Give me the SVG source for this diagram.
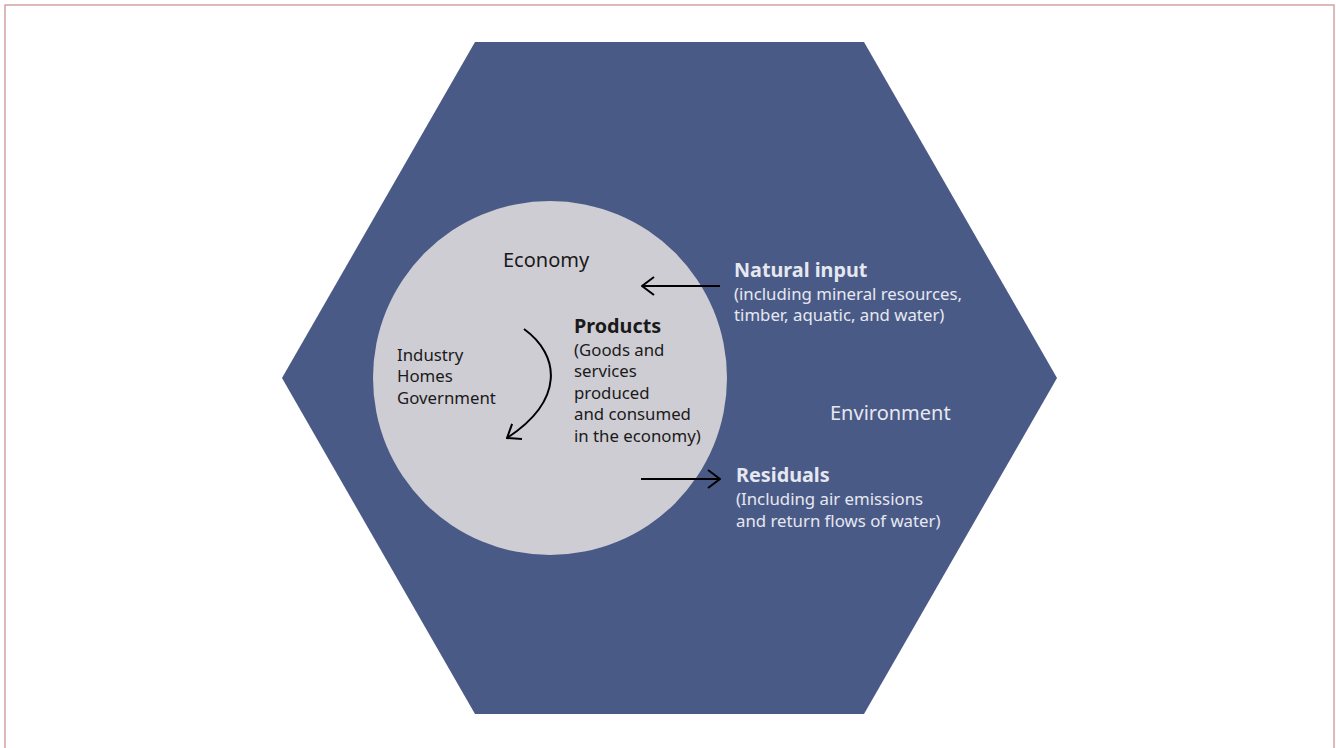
<svg xmlns="http://www.w3.org/2000/svg" width="1336" height="748" viewBox="0 0 1336 748">
<style>
.t{font-family:"Noto Sans","Open Sans",sans-serif;font-size:16.8px}
.dk{fill:#1a1a1a}
.wt{fill:#e6e8f0}
.h{font-size:20px}
.b{font-weight:bold;font-size:19.8px}
.conn{fill:none;stroke:#000;stroke-width:2}
</style>
<defs>
<marker id="arr" viewBox="0 0 14 20" refX="13" refY="10" markerWidth="14" markerHeight="20" markerUnits="userSpaceOnUse" orient="auto">
<path d="M1,1 L13,10 L1,19" fill="none" stroke="#000" stroke-width="2"/>
</marker>
</defs>
<rect x="5" y="5" width="1329" height="760" fill="#fff" stroke="#d4a3a3" stroke-width="1.5"/>
<g id="environment">
<polygon points="475,42 864,42 1057,378 864,714 475,714 282,378" fill="#4a5a87"/>
<text class="t wt h" x="830" y="420">Environment</text>
</g>
<g id="economy">
<circle cx="550" cy="378" r="177" fill="#cfcdd4"/>
<text class="t dk h" x="503" y="267">Economy</text>
<text class="t dk" x="397" y="361">Industry</text>
<text class="t dk" x="397" y="382">Homes</text>
<text class="t dk" x="397" y="404">Government</text>
</g>
<g id="products">
<text class="t dk b" x="574" y="333">Products</text>
<text class="t dk" x="574" y="356">(Goods and</text>
<text class="t dk" x="574" y="377">services</text>
<text class="t dk" x="574" y="399">produced</text>
<text class="t dk" x="574" y="420">and consumed</text>
<text class="t dk" x="574" y="442">in the economy)</text>
</g>
<g id="natural-input">
<text class="t wt b" x="734" y="277">Natural input</text>
<text class="t wt" x="734" y="300">(including mineral resources,</text>
<text class="t wt" x="734" y="321">timber, aquatic, and water)</text>
</g>
<g id="residuals">
<text class="t wt b" x="736" y="482">Residuals</text>
<text class="t wt" x="736" y="505">(Including air emissions</text>
<text class="t wt" x="736" y="527">and return flows of water)</text>
</g>
<g id="connectors">
<path class="conn" d="M720,286 L642,286" marker-end="url(#arr)"/>
<path class="conn" d="M641,479 L720,479" marker-end="url(#arr)"/>
<path class="conn" d="M524,329 C560,355 565,400 507,438" marker-end="url(#arr)"/>
</g>
</svg>
